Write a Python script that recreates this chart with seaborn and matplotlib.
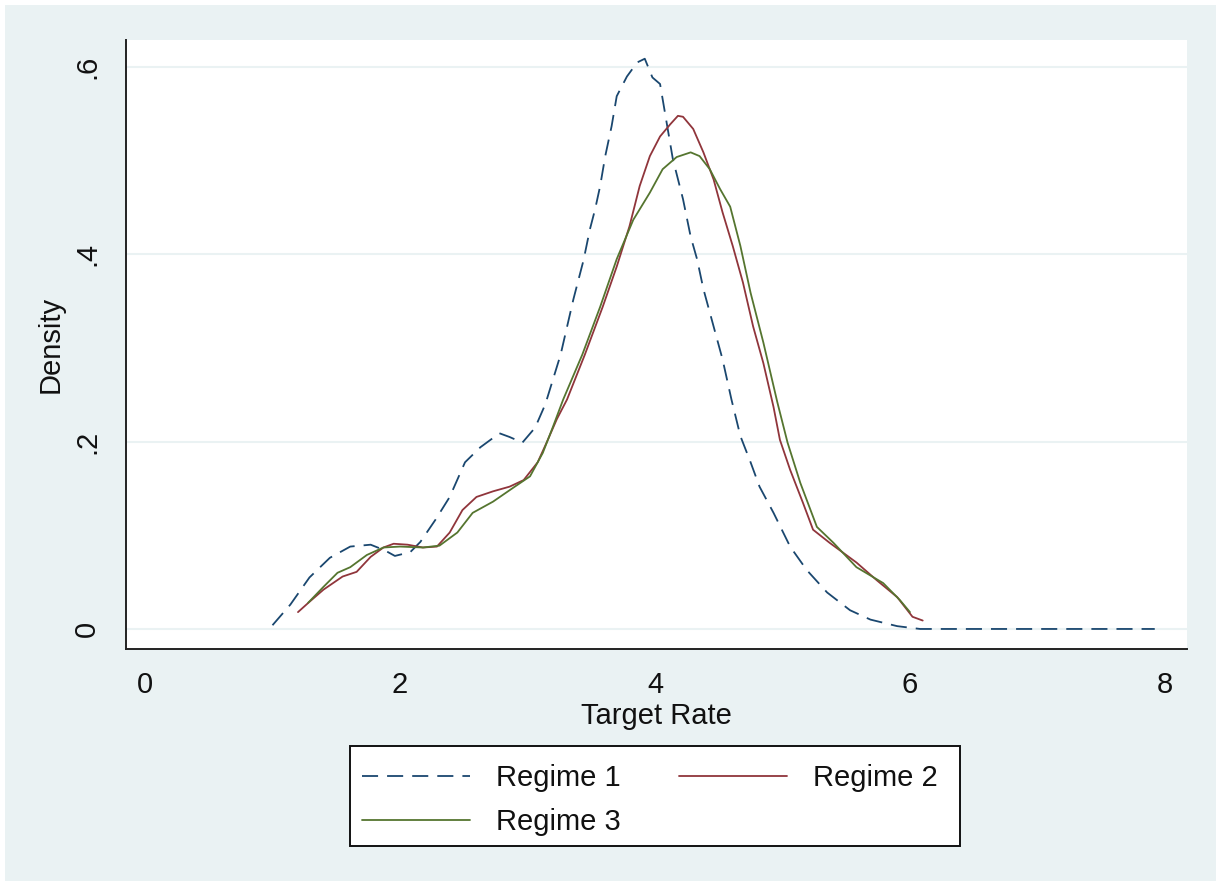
import numpy as np
import pandas as pd
import matplotlib
matplotlib.use("Agg")
import matplotlib.pyplot as plt
import seaborn as sns
from matplotlib.patches import Rectangle

# density curves (Target Rate, Density)
r1_x = [1.00, 1.14, 1.29, 1.45, 1.61, 1.77, 1.88, 1.96, 2.08, 2.16, 2.28, 2.39,
        2.51, 2.63, 2.78, 2.86, 2.96, 3.06, 3.14, 3.26, 3.36, 3.44, 3.49, 3.53,
        3.57, 3.61, 3.66, 3.70, 3.78, 3.86, 3.92, 3.98, 4.04, 4.14, 4.22, 4.28,
        4.33, 4.38, 4.45, 4.53, 4.60, 4.67, 4.75, 4.82, 4.93, 5.06, 5.19, 5.35,
        5.53, 5.69, 5.90, 6.08, 7.92]
r1_y = [0.004, 0.026, 0.055, 0.076, 0.088, 0.090, 0.084, 0.078, 0.082, 0.093,
        0.117, 0.141, 0.178, 0.194, 0.209, 0.205, 0.199, 0.215, 0.240, 0.293,
        0.352, 0.394, 0.427, 0.448, 0.473, 0.505, 0.537, 0.569, 0.590, 0.605,
        0.609, 0.589, 0.582, 0.502, 0.459, 0.419, 0.395, 0.363, 0.328, 0.288,
        0.245, 0.206, 0.178, 0.152, 0.124, 0.088, 0.063, 0.039, 0.020, 0.010,
        0.003, 0.000, 0.000]

r2_x = [1.20, 1.29, 1.40, 1.55, 1.66, 1.77, 1.87, 1.95, 2.06, 2.18, 2.29, 2.39,
        2.49, 2.60, 2.73, 2.86, 2.97, 3.08, 3.15, 3.23, 3.31, 3.45, 3.59, 3.70,
        3.80, 3.88, 3.96, 4.04, 4.12, 4.18, 4.22, 4.30, 4.38, 4.46, 4.53, 4.61,
        4.69, 4.77, 4.85, 4.93, 4.98, 5.06, 5.16, 5.24, 5.37, 5.48, 5.58, 5.74,
        5.90, 6.02, 6.10]
r2_y = [0.018, 0.029, 0.042, 0.056, 0.061, 0.077, 0.087, 0.091, 0.090, 0.087,
        0.088, 0.103, 0.127, 0.141, 0.147, 0.152, 0.159, 0.178, 0.199, 0.224,
        0.245, 0.293, 0.344, 0.387, 0.430, 0.473, 0.505, 0.526, 0.539, 0.548,
        0.547, 0.534, 0.509, 0.480, 0.445, 0.409, 0.370, 0.323, 0.284, 0.237,
        0.202, 0.170, 0.135, 0.106, 0.092, 0.081, 0.071, 0.052, 0.034, 0.013,
        0.009]

r3_x = [1.28, 1.40, 1.51, 1.61, 1.74, 1.87, 2.00, 2.18, 2.31, 2.45, 2.57, 2.73,
        2.89, 3.02, 3.12, 3.20, 3.28, 3.43, 3.57, 3.70, 3.83, 3.96, 4.06, 4.17,
        4.28, 4.35, 4.43, 4.51, 4.59, 4.67, 4.75, 4.85, 4.96, 5.04, 5.14, 5.27,
        5.40, 5.58, 5.79, 5.92, 6.00]
r3_y = [0.028, 0.045, 0.060, 0.066, 0.079, 0.087, 0.088, 0.087, 0.089, 0.103,
        0.124, 0.136, 0.151, 0.163, 0.188, 0.216, 0.245, 0.293, 0.344, 0.395,
        0.437, 0.466, 0.491, 0.504, 0.509, 0.505, 0.491, 0.470, 0.451, 0.409,
        0.359, 0.306, 0.242, 0.199, 0.156, 0.109, 0.092, 0.066, 0.049, 0.031,
        0.018]

labels = ["Regime 1", "Regime 2", "Regime 3"]
x_ticks = [0, 2, 4, 6, 8]
y_ticks = [0, 0.2, 0.4, 0.6]
y_ticklabels = ["0", ".2", ".4", ".6"]

bg = "#EAF2F3"
colors = ["#1A476F", "#90353B", "#55752F"]

sns.set_style("white")
plt.rcParams["font.family"] = ["Liberation Sans", "DejaVu Sans"]

fig = plt.figure(figsize=(12.21, 8.86), dpi=100, facecolor="white")
W, H = 1221, 886
fig.patches.append(Rectangle((5 / W, 5 / H), 1211 / W, 876 / H, transform=fig.transFigure,
                             facecolor=bg, edgecolor="none", zorder=-10))
ax = fig.add_axes([126 / W, (H - 649) / H, 1061 / W, 609 / H])
ax.set_facecolor("white")

handles = []
for (xs, ys), lab, col in zip([(r1_x, r1_y), (r2_x, r2_y), (r3_x, r3_y)], labels, colors):
    df = pd.DataFrame({"Target Rate": xs, "Density": ys})
    ls = (0, (8.9, 5)) if lab == "Regime 1" else "-"
    sns.lineplot(data=df, x="Target Rate", y="Density", ax=ax, color=col,
                 linewidth=1.3, linestyle=ls, estimator=None, label=lab)
    handles.append(ax.lines[-1])
ax.get_legend().remove()

ax.set_xlim(-0.149, 8.173)
ax.set_ylim(-0.0214, 0.629)
ax.set_xticks(x_ticks)
ax.set_yticks(y_ticks)
ax.set_yticklabels(y_ticklabels, rotation=90, va="center")
ax.yaxis.grid(True, color=bg, linewidth=1.5)
ax.xaxis.grid(False)
ax.set_axisbelow(True)
for s in ["top", "right"]:
    ax.spines[s].set_visible(False)
for s in ["left", "bottom"]:
    ax.spines[s].set_color("#222222")
    ax.spines[s].set_linewidth(1.4)
ax.tick_params(axis="both", direction="out", length=8, width=1.2, color="#222222",
               labelsize=21, labelcolor="#111111")
ax.tick_params(axis="x", pad=8)
ax.tick_params(axis="y", pad=10)
ax.set_xlabel("Target Rate", fontsize=21, color="#111111", labelpad=2)
ax.set_ylabel("Density", fontsize=21, color="#111111", labelpad=6)

# legend box
fig.patches.append(Rectangle((350 / W, (H - 846) / H), 610 / W, 100 / H, transform=fig.transFigure,
                             facecolor="white", edgecolor="#111111", linewidth=1.4, zorder=5))
order = [0, 2, 1]
leg = fig.legend([handles[i] for i in order], [labels[i] for i in order], ncol=2,
                 loc="upper left", bbox_to_anchor=(362 / W, (H - 764) / H),
                 frameon=False, fontsize=21, handlelength=3.7, handletextpad=0.9,
                 columnspacing=2.0, labelspacing=0.56, borderpad=0, borderaxespad=0)
leg.set_zorder(6)
for t in leg.get_texts():
    t.set_color("#111111")

fig.savefig("out.png", dpi=100, facecolor="white")
